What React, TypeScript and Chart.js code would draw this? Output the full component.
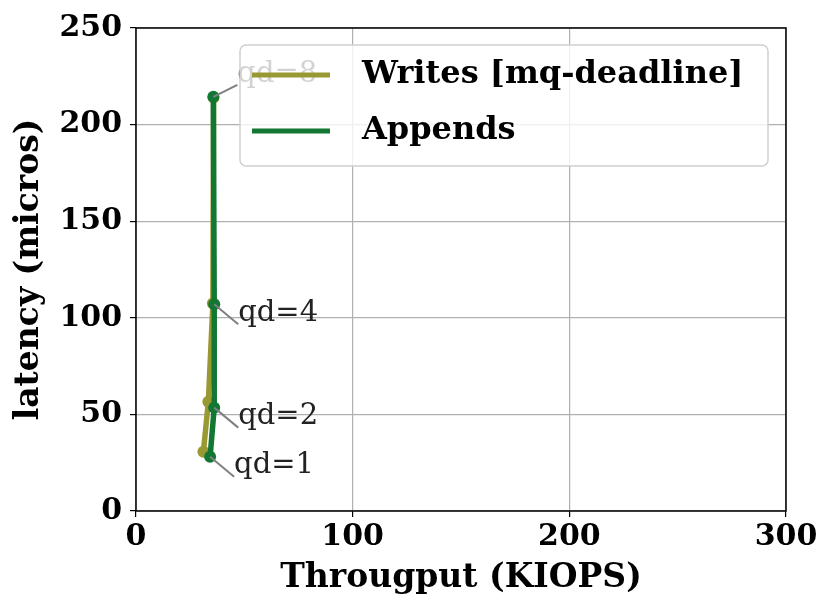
import React, { useEffect, useRef } from "react";
import { Chart, registerables } from "chart.js";
Chart.register(...registerables);

const seriesNames = ["Writes [mq-deadline]", "Appends"];
const seriesColors = ["#999933", "#117733"];
const writesX = [31.1, 33.4, 35.5, 35.8];
const writesY = [30.7, 56.6, 107.5, 214];
const appendsX = [34.2, 36.1, 36.1, 35.7];
const appendsY = [28.1, 53.5, 107, 214.4];
const qdLabels = ["qd=1", "qd=2", "qd=4", "qd=8"];
const xTicks = [0, 100, 200, 300];
const yTicks = [0, 50, 100, 150, 200, 250];
const xTitle = "Througput (KIOPS)";
const yTitle = "latency (micros)";

const FONT = "'DejaVu Serif', serif";

export default function App() {
  const ref = useRef<HTMLCanvasElement>(null);
  useEffect(() => {
    document.body.style.margin = "0";
    const canvas = ref.current!;
    const annot = {
      id: "annot",
      afterDatasetsDraw(chart: any) {
        const ctx = chart.ctx;
        const area = chart.chartArea;
        ctx.save();
        ctx.strokeStyle = "#000";
        ctx.lineWidth = 1.5;
        ctx.strokeRect(area.left, area.top, area.right - area.left, area.bottom - area.top);
        const meta = chart.getDatasetMeta(1);
        meta.data.forEach((el: any, i: number) => {
          const up = i === qdLabels.length - 1;
          const ex = el.x + 24;
          const ey = up ? el.y - 12 : el.y + 20;
          ctx.strokeStyle = "#808080";
          ctx.lineWidth = 2;
          ctx.beginPath();
          ctx.moveTo(el.x, el.y);
          ctx.lineTo(ex, ey);
          ctx.stroke();
          ctx.fillStyle = "#222";
          ctx.font = "29px " + FONT;
          ctx.textAlign = "left";
          ctx.textBaseline = "middle";
          ctx.fillText(qdLabels[i], el.x + 24, up ? el.y - 22 : el.y + 9);
        });
        ctx.restore();
      },
      afterDraw(chart: any) {
        const ctx = chart.ctx;
        ctx.save();
        const bx = 240, by = 45, bw = 528, bh = 121, r = 6;
        ctx.beginPath();
        ctx.moveTo(bx + r, by);
        ctx.arcTo(bx + bw, by, bx + bw, by + bh, r);
        ctx.arcTo(bx + bw, by + bh, bx, by + bh, r);
        ctx.arcTo(bx, by + bh, bx, by, r);
        ctx.arcTo(bx, by, bx + bw, by, r);
        ctx.closePath();
        ctx.fillStyle = "rgba(255,255,255,0.8)";
        ctx.fill();
        ctx.strokeStyle = "#d0d0d0";
        ctx.lineWidth = 1.5;
        ctx.stroke();
        seriesNames.forEach((name, i) => {
          const y = 75 + i * 56;
          ctx.strokeStyle = seriesColors[i];
          ctx.lineWidth = 5;
          ctx.beginPath();
          ctx.moveTo(252, y);
          ctx.lineTo(330, y);
          ctx.stroke();
          ctx.fillStyle = "#000";
          ctx.font = "bold 32px " + FONT;
          ctx.textAlign = "left";
          ctx.textBaseline = "middle";
          ctx.fillText(name, 362, y);
        });
        ctx.restore();
      },
    };
    const chart = new Chart(canvas, {
      type: "line",
      data: {
        datasets: [
          {
            label: seriesNames[0],
            data: writesX.map((x, i) => ({ x, y: writesY[i] })),
            borderColor: seriesColors[0],
            backgroundColor: seriesColors[0],
            borderWidth: 5.5,
            pointRadius: 6,
            pointBorderWidth: 0,
            order: 1,
          },
          {
            label: seriesNames[1],
            data: appendsX.map((x, i) => ({ x, y: appendsY[i] })),
            borderColor: seriesColors[1],
            backgroundColor: seriesColors[1],
            borderWidth: 5.5,
            pointRadius: 6,
            pointBorderWidth: 0,
            order: 0,
          },
        ],
      },
      options: {
        animation: false,
        responsive: false,
        layout: { padding: { left: 0, right: 45, top: 28, bottom: 0 } },
        plugins: { legend: { display: false }, tooltip: { enabled: false } },
        scales: {
          x: {
            type: "linear",
            min: 0,
            max: 300,
            afterBuildTicks: (s: any) => {
              s.ticks = xTicks.map((v) => ({ value: v }));
            },
            afterFit: (s: any) => {
              s.height = 105;
            },
            grid: { color: "#b0b0b0", lineWidth: 1.2, tickColor: "#000", tickLength: 6 },
            border: { display: false },
            ticks: { color: "#000", font: { family: FONT, size: 30, weight: "bold" }, padding: 2, maxRotation: 0 },
            title: {
              display: true,
              text: xTitle,
              color: "#000",
              font: { family: FONT, size: 33, weight: "bold" },
              padding: { top: 0, bottom: 18 },
            },
          },
          y: {
            type: "linear",
            min: 0,
            max: 250,
            afterBuildTicks: (s: any) => {
              s.ticks = yTicks.map((v) => ({ value: v }));
            },
            afterFit: (s: any) => {
              s.width = 136;
            },
            grid: { color: "#b0b0b0", lineWidth: 1.2, tickColor: "#000", tickLength: 6 },
            border: { display: false },
            ticks: { color: "#000", font: { family: FONT, size: 30, weight: "bold" }, padding: 8 },
            title: {
              display: true,
              text: yTitle,
              color: "#000",
              font: { family: FONT, size: 33, weight: "bold" },
              padding: { top: 10, bottom: 0 },
            },
          },
        },
      },
      plugins: [annot],
    } as any);
    return () => chart.destroy();
  }, []);
  return <canvas ref={ref} width={831} height={616} style={{ display: "block" }} />;
}
